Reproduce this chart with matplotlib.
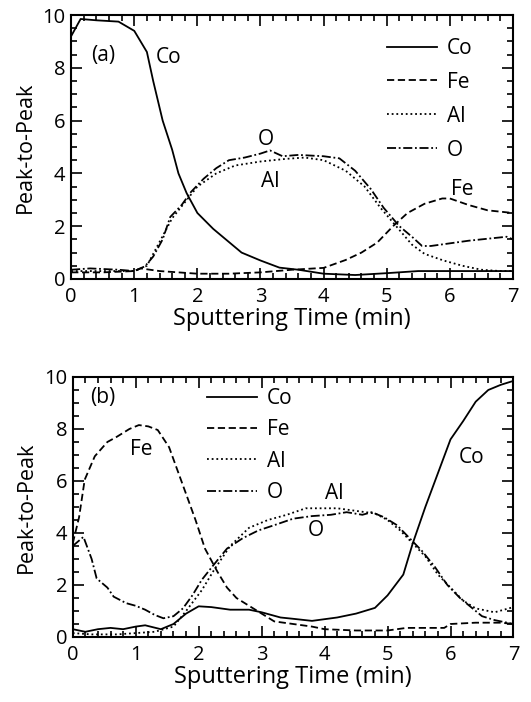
import numpy as np
import matplotlib
matplotlib.use("Agg")
import matplotlib.pyplot as plt
from matplotlib.ticker import MultipleLocator

plt.rcParams['font.family'] = ['Open Sans', 'DejaVu Sans']

# ---- panel (a) data ----
t_co_a = [0, 0.15, 0.4, 0.75, 1.0, 1.2, 1.3, 1.45, 1.6, 1.7, 1.83, 2.0, 2.25, 2.5, 2.7, 3.0, 3.3, 3.6, 4.0, 4.5, 5.0, 5.5, 6.0, 6.5, 7.0]
co_a = [9.2, 9.85, 9.8, 9.75, 9.4, 8.6, 7.5, 6.0, 4.9, 4.0, 3.25, 2.5, 1.9, 1.4, 1.0, 0.7, 0.43, 0.35, 0.2, 0.15, 0.22, 0.3, 0.3, 0.3, 0.3]

t_fe_a = [0, 0.5, 1.0, 1.1, 1.4, 2.0, 2.5, 3.0, 3.5, 4.0, 4.35, 4.6, 4.85, 5.1, 5.33, 5.6, 5.88, 6.0, 6.3, 6.6, 7.0]
fe_a = [0.25, 0.25, 0.3, 0.4, 0.3, 0.2, 0.2, 0.25, 0.35, 0.42, 0.72, 1.0, 1.38, 2.0, 2.5, 2.85, 3.05, 3.05, 2.8, 2.6, 2.5]

t_al_a = [0, 0.5, 1.0, 1.2, 1.6, 2.0, 2.3, 2.6, 3.0, 3.4, 3.7, 4.0, 4.35, 4.65, 4.9, 5.15, 5.4, 5.6, 5.9, 6.2, 6.5, 6.8, 7.0]
al_a = [0.3, 0.3, 0.3, 0.5, 2.3, 3.5, 4.0, 4.3, 4.45, 4.55, 4.6, 4.5, 4.1, 3.5, 2.7, 2.0, 1.3, 0.95, 0.7, 0.5, 0.35, 0.3, 0.3]

t_o_a = [0, 0.3, 0.75, 1.0, 1.17, 1.3, 1.45, 1.57, 1.75, 1.9, 2.1, 2.3, 2.5, 2.75, 3.0, 3.15, 3.35, 3.6, 4.0, 4.25, 4.5, 4.75, 4.95, 5.2, 5.4, 5.56, 5.7, 6.0, 6.3, 6.7, 6.9, 7.0]
o_a = [0.35, 0.4, 0.35, 0.3, 0.48, 0.85, 1.5, 2.35, 2.8, 3.3, 3.8, 4.2, 4.5, 4.6, 4.75, 4.87, 4.65, 4.7, 4.65, 4.57, 4.1, 3.4, 2.7, 2.0, 1.6, 1.25, 1.25, 1.35, 1.45, 1.55, 1.6, 1.5]

# ---- panel (b) data ----
t_co_b = [0, 0.2, 0.4, 0.6, 0.8, 1.0, 1.15, 1.4, 1.6, 1.8, 2.0, 2.2, 2.5, 2.8, 3.0, 3.3, 3.5, 3.8, 4.2, 4.5, 4.8, 5.0, 5.25, 5.4, 5.6, 5.8, 6.0, 6.2, 6.4, 6.6, 6.8, 7.0]
co_b = [0.3, 0.2, 0.3, 0.35, 0.3, 0.4, 0.45, 0.3, 0.5, 0.9, 1.18, 1.15, 1.05, 1.05, 0.95, 0.75, 0.7, 0.62, 0.75, 0.9, 1.12, 1.6, 2.4, 3.6, 5.0, 6.3, 7.6, 8.3, 9.05, 9.5, 9.7, 9.85]

t_fe_b = [0, 0.1, 0.19, 0.35, 0.55, 0.7, 0.9, 1.05, 1.2, 1.35, 1.53, 1.65, 1.8, 1.95, 2.1, 2.3, 2.45, 2.6, 2.8, 3.0, 3.2, 3.5, 3.8, 4.0, 4.5, 5.0, 5.3, 5.6, 5.9, 6.0, 6.4, 6.8, 7.0]
fe_b = [3.6, 4.6, 6.05, 6.95, 7.5, 7.7, 8.0, 8.15, 8.1, 7.96, 7.3, 6.5, 5.5, 4.5, 3.4, 2.5, 1.9, 1.5, 1.2, 0.9, 0.6, 0.5, 0.4, 0.3, 0.25, 0.25, 0.35, 0.35, 0.35, 0.5, 0.55, 0.55, 0.5]

t_al_b = [0, 0.3, 0.7, 1.0, 1.3, 1.6, 1.8, 2.05, 2.25, 2.5, 2.8, 3.1, 3.4, 3.7, 4.2, 4.5, 4.8, 5.0, 5.2, 5.4, 5.6, 5.8, 6.0, 6.2, 6.4, 6.6, 6.7, 6.85, 7.0]
al_b = [0.15, 0.1, 0.1, 0.15, 0.2, 0.4, 1.0, 1.8, 2.6, 3.5, 4.2, 4.5, 4.7, 4.95, 4.95, 4.85, 4.75, 4.5, 4.1, 3.6, 3.1, 2.4, 1.9, 1.4, 1.1, 1.0, 0.95, 1.05, 1.15]

t_o_b = [0, 0.17, 0.3, 0.38, 0.55, 0.65, 0.85, 1.0, 1.15, 1.3, 1.44, 1.6, 1.75, 1.9, 2.05, 2.23, 2.45, 2.7, 2.95, 3.2, 3.5, 3.8, 4.1, 4.35, 4.6, 4.75, 4.95, 5.15, 5.35, 5.55, 5.75, 5.95, 6.15, 6.35, 6.5, 6.7, 6.9, 7.0]
o_b = [3.5, 3.85, 3.0, 2.25, 1.9, 1.55, 1.3, 1.2, 1.05, 0.85, 0.72, 0.8, 1.1, 1.6, 2.2, 2.75, 3.4, 3.8, 4.1, 4.3, 4.55, 4.65, 4.7, 4.8, 4.7, 4.8, 4.6, 4.3, 3.8, 3.3, 2.7, 2.0, 1.5, 1.1, 0.8, 0.65, 0.55, 0.5]

names = ['Co', 'Fe', 'Al', 'O']
styles = ['-', (0, (4, 2)), (0, (1, 1.6)), (0, (5, 1.5, 1, 1.5))]


def setup(ax):
    ax.set_xlim(0, 7)
    ax.set_ylim(0, 10)
    ax.xaxis.set_major_locator(MultipleLocator(1))
    ax.xaxis.set_minor_locator(MultipleLocator(0.2))
    ax.yaxis.set_major_locator(MultipleLocator(2))
    ax.yaxis.set_minor_locator(MultipleLocator(0.5))
    ax.tick_params(which='both', direction='in', top=True, right=True,
                   labelsize=14.5, width=1.2, pad=4)
    ax.tick_params(axis='x', which='major', pad=6)
    ax.tick_params(which='major', length=8)
    ax.tick_params(which='minor', length=4.5)
    for s in ax.spines.values():
        s.set_linewidth(1.5)
    ax.set_xlabel('Sputtering Time (min)', fontsize=17, labelpad=0)
    ax.set_ylabel('Peak-to-Peak', fontsize=15.5, labelpad=5)


fig = plt.figure(figsize=(5.31, 7.02), dpi=100)
ax1 = fig.add_axes([0.134, 0.6026, 0.832, 0.376])
ax2 = fig.add_axes([0.137, 0.0926, 0.830, 0.3704])

series_a = [(t_co_a, co_a), (t_fe_a, fe_a), (t_al_a, al_a), (t_o_a, o_a)]
series_b = [(t_co_b, co_b), (t_fe_b, fe_b), (t_al_b, al_b), (t_o_b, o_b)]

for ax, series in [(ax1, series_a), (ax2, series_b)]:
    for (t, v), nm, ls in zip(series, names, styles):
        ax.plot(t, v, color='black', linestyle=ls, linewidth=1.3, label=nm)
    setup(ax)

ax1.legend(loc='upper left', bbox_to_anchor=(0.695, 0.945), frameon=False,
           fontsize=15, handlelength=2.4, handletextpad=0.5, labelspacing=0.62,
           borderaxespad=0)
ax2.legend(loc='upper left', bbox_to_anchor=(0.285, 0.99), frameon=False,
           fontsize=15, handlelength=2.4, handletextpad=0.5, labelspacing=0.5,
           borderaxespad=0)

kw = dict(fontsize=15, ha='center', va='center')
ax1.text(0.5, 8.45, '(a)', **kw)
ax1.text(1.55, 8.4, 'Co', **kw)
ax1.text(3.08, 5.3, 'O', **kw)
ax1.text(3.16, 3.7, 'Al', **kw)
ax1.text(6.2, 3.4, 'Fe', **kw)

ax2.text(0.48, 9.2, '(b)', **kw)
ax2.text(1.09, 7.2, 'Fe', **kw)
ax2.text(6.33, 6.9, 'Co', **kw)
ax2.text(4.15, 5.5, 'Al', **kw)
ax2.text(3.86, 4.1, 'O', **kw)

fig.savefig('out.png', dpi=100)
